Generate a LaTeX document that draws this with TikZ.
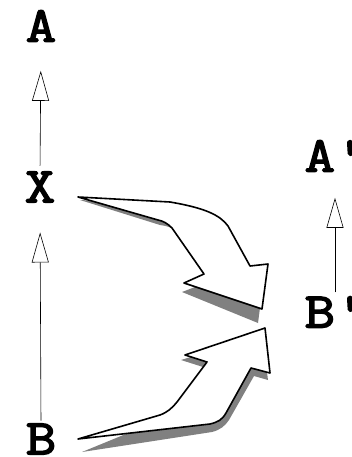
\documentclass[tikz,border=0pt]{standalone}
\usepackage{fontspec}
\usetikzlibrary{arrows.meta}
\newfontfamily\lblfont[FakeBold=3, FakeStretch=1.18]{Latin Modern Mono}

\begin{document}
\begin{tikzpicture}[x=1pt, y=-1pt,
  lbl/.style={font=\lblfont\fontsize{50}{50}\selectfont, inner sep=0pt},
  thinarr/.style={-{Triangle[open, length=30pt, width=17pt]}, line width=0.6pt},
  fatarr/.style={draw=black, fill=white, line width=1.6pt, line join=round},
  shadow/.style={fill=black!50}
]
  \useasboundingbox (0,0) rectangle (352,457);

  % labels
  \node[lbl] (A)  at (41,26)   {A};
  \node[lbl] (X)  at (40,187)  {X};
  \node[lbl] (B)  at (41,439)  {B};
  \node[lbl] (A2) at (335,156) {A'};
  \node[lbl] (B2) at (335,312) {B'};

  % thin arrows
  \draw[thinarr, shorten <=6pt, shorten >=29pt] (X.north) -- (A.south);
  \draw[thinarr, shorten <=3pt, shorten >=30pt] (B.north) -- (X.south);
  \draw[thinarr, shorten <=4pt, shorten >=26pt] (B2.north) -- (A2.south);

  % upper fat arrow, X to B'
  \fill[shadow] (80,200) -- (172,205) -- (230,229) -- (250,272) -- (265,270)
    -- (258,323) -- (182,292) -- (208,282) -- (178,232)
    .. controls (171,227) and (167,226) .. (160,225) -- cycle;
  \draw[fatarr] (78,197) -- (170,202) .. controls (205,208) and (220,215) .. (228,226)
    -- (250,266) -- (268,264) -- (262,309) -- (184,283) -- (204,274) -- (172,228)
    .. controls (167,223) and (163,221) .. (158,220) -- cycle;

  % lower fat arrow, B to B'
  \fill[shadow] (82,452) -- (212,432) .. controls (220,430) and (225,426) .. (229,420)
    -- (254,376) -- (268,380) -- (262,335) -- (181,360) -- (203,367)
    -- (176,408) -- (160,420) -- cycle;
  \draw[fatarr] (78,439) -- (160,415) .. controls (168,412) and (172,408) .. (177,402)
    -- (207,362) -- (185,355) -- (265,328) -- (270,373) -- (251,368) -- (226,413)
    .. controls (222,420) and (218,422) .. (210,424) -- cycle;
\end{tikzpicture}
\end{document}
